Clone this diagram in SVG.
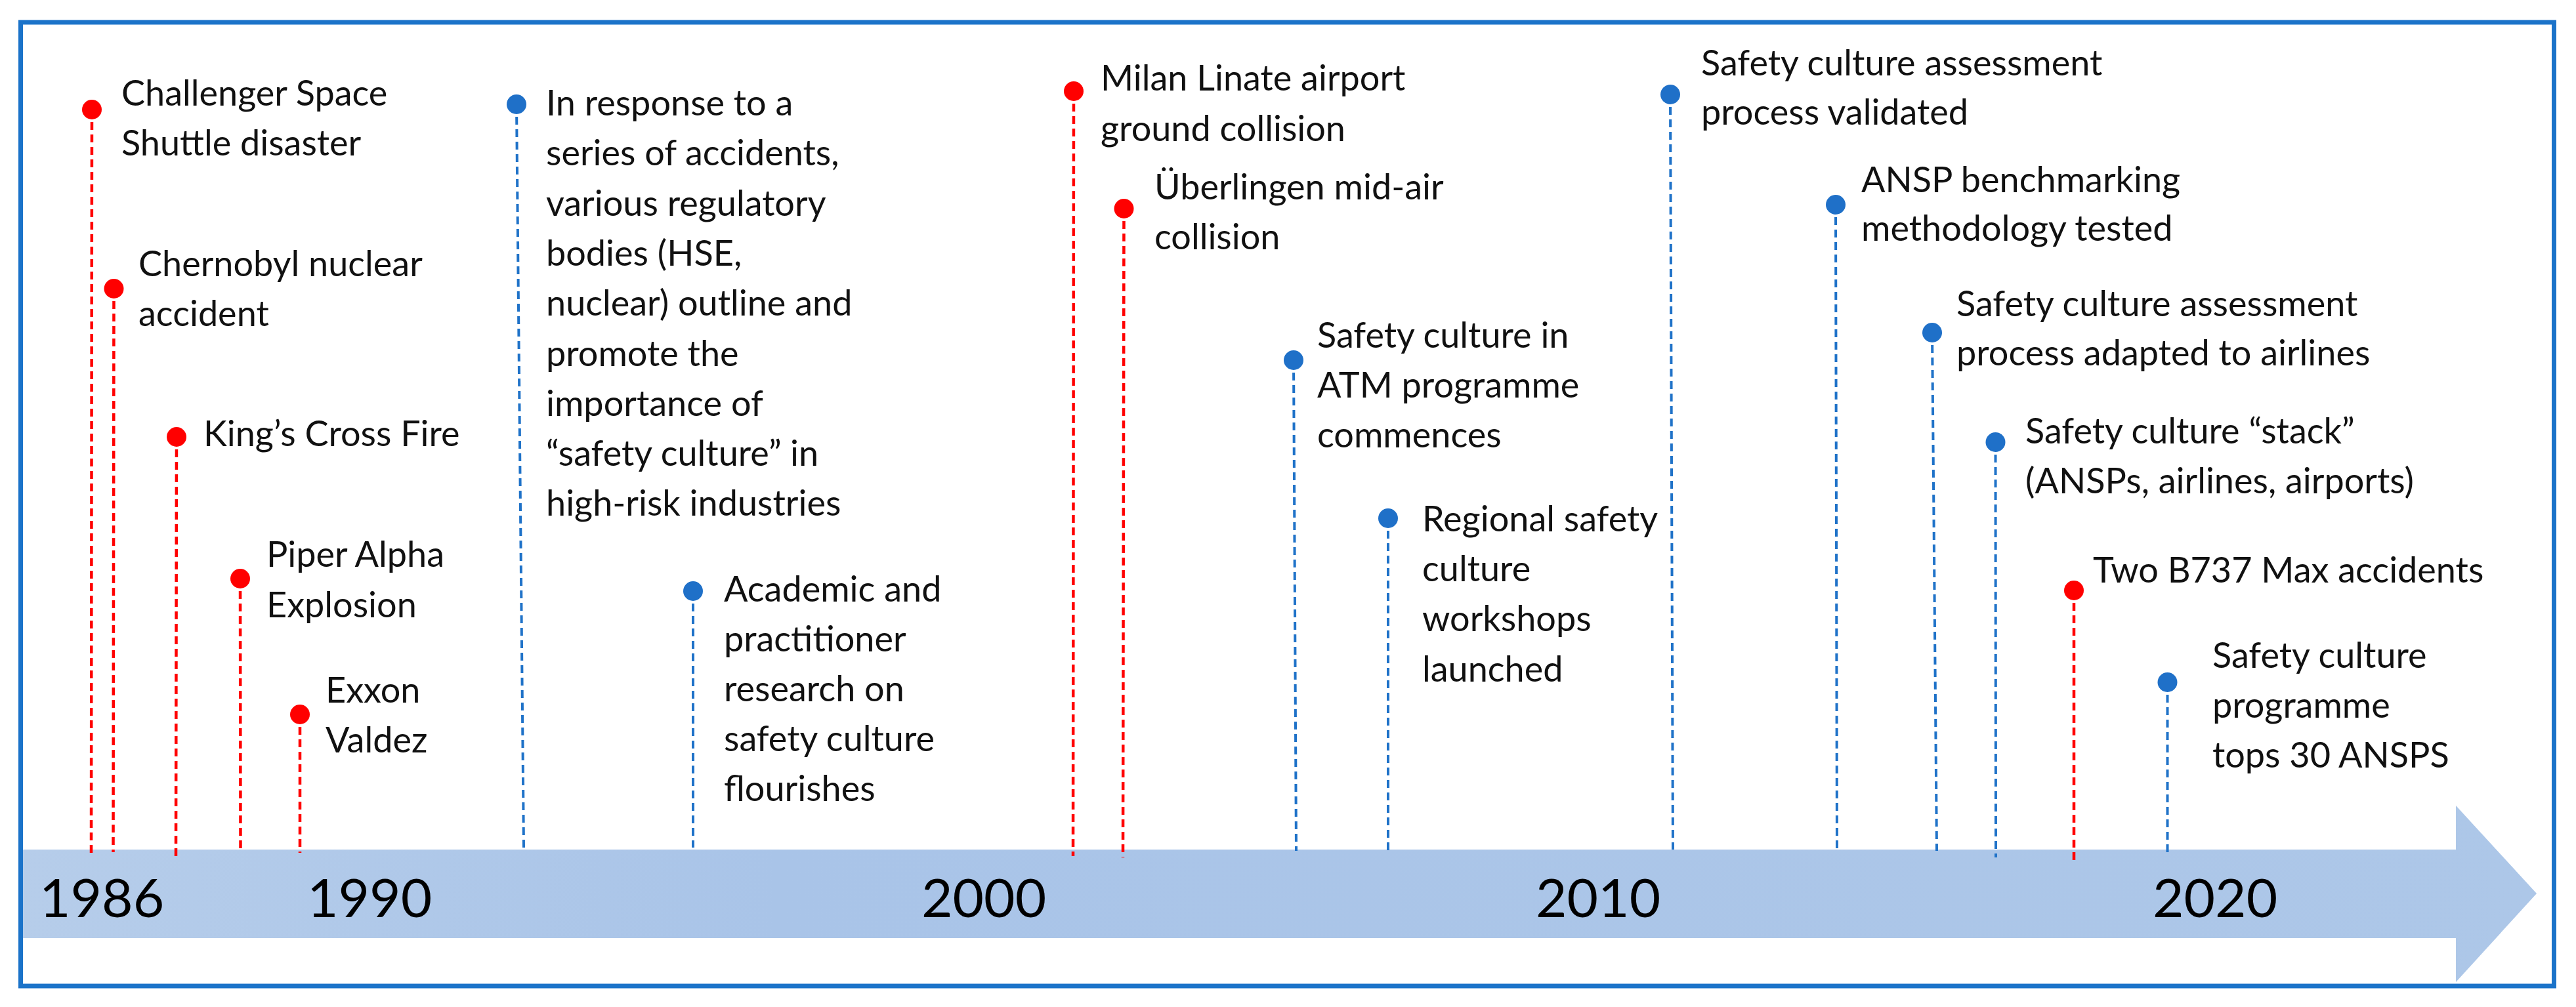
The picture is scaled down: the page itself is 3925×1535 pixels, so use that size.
<svg xmlns="http://www.w3.org/2000/svg" width="3925" height="1535" viewBox="0 0 3925 1535">
<style>
.t{font-family:Lato,"Liberation Sans",sans-serif;font-size:54px;fill:#111}
.yr{font-family:Lato,"Liberation Sans",sans-serif;font-size:82px;fill:#000}
.r{stroke:#ff0000;stroke-width:4.5;stroke-dasharray:12 7;fill:none}
.b{stroke:#1f72c8;stroke-width:4;stroke-dasharray:12 7;fill:none}
.dr{fill:#ff0000}
.db{fill:#1f70c8}
</style>
<defs>
<linearGradient id="ag" x1="0" y1="0" x2="1" y2="0">
<stop offset="0" stop-color="#b6cdea"/>
<stop offset="0.3" stop-color="#a9c4e8"/>
<stop offset="1" stop-color="#adc7e8"/>
</linearGradient>
</defs>
<rect x="0" y="0" width="3925" height="1535" fill="#fff"/>
<g id="timeline">
<path d="M34 1295 H3742 V1228 L3865 1362 L3742 1497 V1430 H34 Z" fill="url(#ag)"/>
<text class="yr" x="60" y="1398">1986</text>
<text class="yr" x="468" y="1398">1990</text>
<text class="yr" x="1404" y="1398">2000</text>
<text class="yr" x="2340" y="1398">2010</text>
<text class="yr" x="3280" y="1398">2020</text>
</g>
<g id="connectors">
<line class="r" x1="140" y1="167" x2="139" y2="1300"/>
<line class="r" x1="173.5" y1="440" x2="172.5" y2="1299"/>
<line class="r" x1="269" y1="666" x2="268" y2="1307"/>
<line class="r" x1="366" y1="882" x2="366.5" y2="1294"/>
<line class="r" x1="457" y1="1089" x2="457" y2="1300"/>
<line class="b" x1="787" y1="159" x2="798" y2="1292"/>
<line class="b" x1="1056" y1="901" x2="1056" y2="1292"/>
<line class="r" x1="1636" y1="139" x2="1635" y2="1305"/>
<line class="r" x1="1712.5" y1="318" x2="1711" y2="1307"/>
<line class="b" x1="1971" y1="549" x2="1975" y2="1297"/>
<line class="b" x1="2115" y1="790" x2="2115" y2="1303"/>
<line class="b" x1="2545" y1="144" x2="2549" y2="1295"/>
<line class="b" x1="2797" y1="312" x2="2799" y2="1297"/>
<line class="b" x1="2944" y1="507" x2="2951" y2="1297"/>
<line class="b" x1="3040.5" y1="674" x2="3041" y2="1307"/>
<line class="r" x1="3160" y1="900" x2="3160" y2="1317"/>
<line class="b" x1="3302.5" y1="1040" x2="3302.5" y2="1300"/>
</g>
<g id="challenger"><circle class="dr" cx="140" cy="167" r="15"/>
<text class="t" x="185" y="161">Challenger Space<tspan x="185" dy="76">Shuttle disaster</tspan></text></g>
<g id="chernobyl"><circle class="dr" cx="173.5" cy="440" r="15"/>
<text class="t" x="211" y="421">Chernobyl nuclear<tspan x="211" dy="76">accident</tspan></text></g>
<g id="kingscross"><circle class="dr" cx="269" cy="666" r="15"/>
<text class="t" x="310" y="680">King’s Cross Fire</text></g>
<g id="piper"><circle class="dr" cx="366" cy="882" r="15"/>
<text class="t" x="406" y="864">Piper Alpha<tspan x="406" dy="77">Explosion</tspan></text></g>
<g id="exxon"><circle class="dr" cx="457" cy="1089" r="15"/>
<text class="t" x="496" y="1071">Exxon<tspan x="496" dy="76">Valdez</tspan></text></g>
<g id="response"><circle class="db" cx="787" cy="159" r="15"/>
<text class="t" x="832" y="176">In response to a<tspan x="832" dy="76.3">series of accidents,</tspan><tspan x="832" dy="76.3">various regulatory</tspan><tspan x="832" dy="76.3">bodies (HSE,</tspan><tspan x="832" dy="76.3">nuclear) outline and</tspan><tspan x="832" dy="76.3">promote the</tspan><tspan x="832" dy="76.3">importance of</tspan><tspan x="832" dy="76.3">“safety culture” in</tspan><tspan x="832" dy="76.3">high-risk industries</tspan></text></g>
<g id="academic"><circle class="db" cx="1056" cy="901" r="15"/>
<text class="t" x="1103" y="917">Academic and<tspan x="1103" dy="76">practitioner</tspan><tspan x="1103" dy="76">research on</tspan><tspan x="1103" dy="76">safety culture</tspan><tspan x="1103" dy="76">flourishes</tspan></text></g>
<g id="milan"><circle class="dr" cx="1636" cy="139" r="15"/>
<text class="t" x="1677" y="138">Milan Linate airport<tspan x="1677" dy="77">ground collision</tspan></text></g>
<g id="ueberlingen"><circle class="dr" cx="1712.5" cy="318" r="15"/>
<text class="t" x="1759" y="304">Überlingen mid-air<tspan x="1759" dy="76">collision</tspan></text></g>
<g id="atm"><circle class="db" cx="1971" cy="549" r="15"/>
<text class="t" x="2007" y="530">Safety culture in<tspan x="2007" dy="76">ATM programme</tspan><tspan x="2007" dy="76">commences</tspan></text></g>
<g id="regional"><circle class="db" cx="2115" cy="790" r="15"/>
<text class="t" x="2167" y="810">Regional safety<tspan x="2167" dy="76">culture</tspan><tspan x="2167" dy="76">workshops</tspan><tspan x="2167" dy="77">launched</tspan></text></g>
<g id="validated"><circle class="db" cx="2545" cy="144" r="15"/>
<text class="t" x="2592" y="115">Safety culture assessment<tspan x="2592" dy="75">process validated</tspan></text></g>
<g id="benchmarking"><circle class="db" cx="2797" cy="312" r="15"/>
<text class="t" x="2836" y="293">ANSP benchmarking<tspan x="2836" dy="74">methodology tested</tspan></text></g>
<g id="airlines"><circle class="db" cx="2944" cy="507" r="15"/>
<text class="t" x="2981" y="482">Safety culture assessment<tspan x="2981" dy="75">process adapted to airlines</tspan></text></g>
<g id="stack"><circle class="db" cx="3040.5" cy="674" r="15"/>
<text class="t" x="3086" y="676">Safety culture “stack”<tspan x="3086" dy="76">(ANSPs, airlines, airports)</tspan></text></g>
<g id="b737"><circle class="dr" cx="3160" cy="900" r="15"/>
<text class="t" x="3189" y="888">Two B737 Max accidents</text></g>
<g id="ansps30"><circle class="db" cx="3302.5" cy="1040" r="15"/>
<text class="t" x="3371" y="1018">Safety culture<tspan x="3371" dy="76">programme</tspan><tspan x="3371" dy="76">tops 30 ANSPS</tspan></text></g>
<rect id="frame" x="31.5" y="34" width="3860" height="1469" fill="none" stroke="#1b73c9" stroke-width="7"/>
</svg>
